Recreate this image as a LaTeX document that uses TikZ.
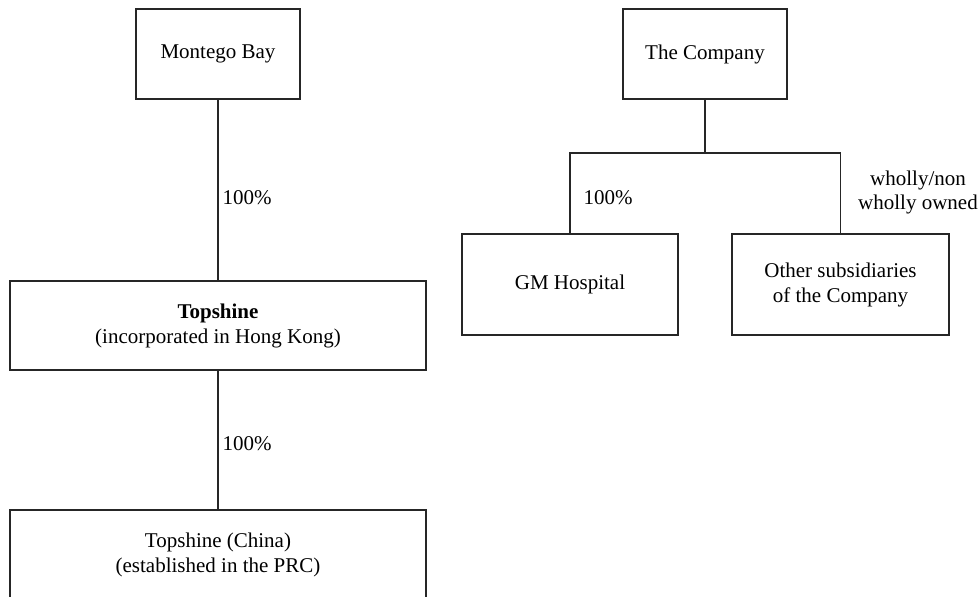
\documentclass[tikz,border=0pt]{standalone}
\usepackage{fontspec}
\setmainfont{Liberation Serif}
\begin{document}
\begin{tikzpicture}[x=0.5pt,y=-0.5pt,
  box/.style={draw=black!85, line width=0.7pt, inner sep=0pt, align=center, font=\fontsize{10.5}{12.5}\selectfont},
  lbl/.style={inner sep=0pt, align=center, font=\fontsize{10.5}{12}\selectfont},
  conn/.style={draw=black!85, line width=0.7pt}]
\useasboundingbox (0,0) rectangle (978,596);
\clip (0,0) rectangle (978,596);
% left chart
\node[box, minimum width=164*0.5pt, minimum height=90*0.5pt] (mb) at (218,54) {Montego Bay};
\node[box, minimum width=416*0.5pt, minimum height=89*0.5pt] (ts) at (218,325.5) {\textbf{Topshine}\\(incorporated in Hong Kong)};
\node[box, minimum width=416*0.5pt, minimum height=90*0.5pt] (tc) at (218,555) {Topshine (China)\\(established in the PRC)};
\draw[conn] (mb.south) -- (ts.north);
\draw[conn] (ts.south) -- (tc.north);
\node[lbl] (p1) at (247,198) {100\%};
\node[lbl] (p2) at (247,444) {100\%};
% right chart
\node[box, minimum width=164*0.5pt, minimum height=90*0.5pt] (co) at (705,54) {The Company};
\node[box, minimum width=216*0.5pt, minimum height=101*0.5pt] (gm) at (570,284.5) {GM Hospital};
\node[box, minimum width=217*0.5pt, minimum height=101*0.5pt] (os) at (840.5,284.5) {Other subsidiaries\\of the Company};
\coordinate (bar) at (705,153);
\draw[conn] (co.south) -- (bar);
\draw[conn] (gm.north) |- (bar) -| (os.north);
\node[lbl] (p3) at (608,198) {100\%};
\node[lbl] (wo) at (918,192) {wholly/non\\wholly owned};
\end{tikzpicture}
\end{document}
